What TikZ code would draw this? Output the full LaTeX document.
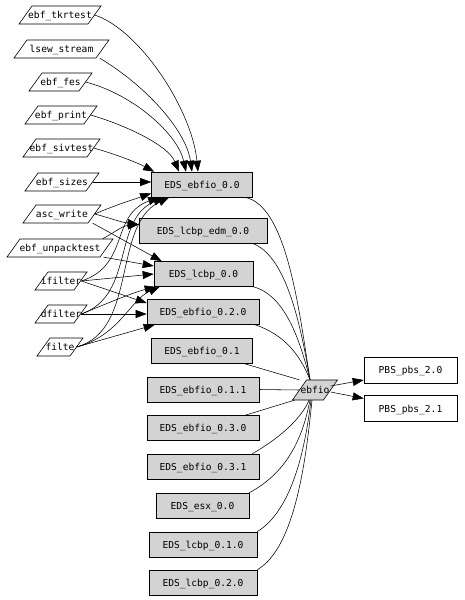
\documentclass[tikz,border=0pt]{standalone}
\usepackage{fontspec}
\setmonofont{DejaVu Sans Mono}
\usetikzlibrary{arrows.meta}
\definecolor{gvgray}{HTML}{D3D3D3}
\tikzset{
 lbl/.style={font=\ttfamily\fontsize{9.6}{11}\selectfont, inner sep=0pt, text depth=0pt, text height=7pt},
 eds/.style={lbl, draw, fill=gvgray, minimum height=25, line width=0.6pt},
 pbs/.style={lbl, draw, fill=white, minimum height=26, line width=0.6pt},
 ptext/.style={lbl},
 conn/.style={line width=0.55pt, -{Triangle[length=11pt,width=8pt]}},
 plainconn/.style={line width=0.55pt},
}
% fill, name, x, y, midwidth, halfheight, skew, text
\newcommand\pgram[8]{%
  \path[draw, line width=0.6pt, fill=#1] ({#3-#5/2-#7},{#4+#6}) -- ({#3-#5/2+#7},{#4-#6}) -- ({#3+#5/2+#7},{#4-#6}) -- ({#3+#5/2-#7},{#4+#6}) -- cycle;
  \node[ptext, minimum width=#5, minimum height=2*#6] (#2) at (#3,#4) {#8};
}
\begin{document}
\begin{tikzpicture}[x=1pt,y=-1pt]
\fill[white] (0,0) rectangle (464,600);
\useasboundingbox (0,0) rectangle (464,600);

% left parallelograms
\pgram{white}{tkr}{60}{15}{69}{9}{6.5}{ebf\_tkrtest}
\pgram{white}{lsew}{61.5}{49}{82}{9}{6.5}{lsew\_stream}
\pgram{white}{fes}{60.5}{82}{50}{9}{6.5}{ebf\_fes}
\pgram{white}{prt}{61}{115}{59}{9}{6.5}{ebf\_print}
\pgram{white}{siv}{61.5}{148}{64}{9}{6.5}{ebf\_sivtest}
\pgram{white}{siz}{62}{182}{61}{9}{6.5}{ebf\_sizes}
\pgram{white}{asc}{62}{214}{65}{9}{6.5}{asc\_write}
\pgram{white}{unp}{60}{248}{93}{9}{6.5}{ebf\_unpacktest}
\pgram{white}{ifl}{61}{281}{39}{9}{6.5}{ifilter}
\pgram{white}{dfl}{61}{314}{39}{9}{6.5}{dfilter}
\pgram{white}{fil}{60}{347}{33}{9}{6.5}{filte}

% EDS boxes
\node[eds, minimum width=101] (e00) at (202,184.5) {EDS\_ebfio\_0.0};
\node[eds, minimum width=128] (edm) at (203,230.5) {EDS\_lcbp\_edm\_0.0};
\node[eds, minimum width=99] (l00) at (203.5,274) {EDS\_lcbp\_0.0};
\node[eds, minimum width=112] (e020) at (203,312) {EDS\_ebfio\_0.2.0};
\node[eds, minimum width=101] (e01) at (202,351) {EDS\_ebfio\_0.1};
\node[eds, minimum width=112] (e011) at (203,389.5) {EDS\_ebfio\_0.1.1};
\node[eds, minimum width=112] (e030) at (203,428) {EDS\_ebfio\_0.3.0};
\node[eds, minimum width=112] (e031) at (203,466.5) {EDS\_ebfio\_0.3.1};
\node[eds, minimum width=93] (esx) at (202.5,505.5) {EDS\_esx\_0.0};
\node[eds, minimum width=108] (l010) at (203,544.5) {EDS\_lcbp\_0.1.0};
\node[eds, minimum width=108] (l020) at (203,582.5) {EDS\_lcbp\_0.2.0};

% ebfio
\pgram{gvgray}{ebf}{315}{390}{31}{10}{7}{ebfio}

% PBS
\node[pbs, minimum width=93] (p20) at (410.5,370) {PBS\_pbs\_2.0};
\node[pbs, minimum width=93] (p21) at (410.5,408.5) {PBS\_pbs\_2.1};

% edges into EDS_ebfio_0.0
\draw[conn] (tkr.east) .. controls (140,30) and (192,110) .. ([xshift=-4pt]e00.north);
\draw[conn] ([xshift=-3pt]lsew.south east) .. controls (145,85) and (186,130) .. ([xshift=-10pt]e00.north);
\draw[conn] (fes.east) .. controls (135,95) and (178,135) .. ([xshift=-16pt]e00.north);
\draw[conn] (prt.east) .. controls (125,125) and (168,145) .. ([xshift=-23pt]e00.north);
\draw[conn] (siv.east) .. controls (118,155) and (138,163) .. ([xshift=3pt]e00.north west);
\draw[conn] (siz.east) -- (siz.east -| e00.west);
\draw[conn] (asc.east) .. controls (118,204) and (135,199) .. ([yshift=4pt]e00.south west);
\draw[conn] (ifl.east) .. controls (130,265) and (110,215) .. ([xshift=8pt]e00.south west);
\draw[conn] (dfl.east) .. controls (135,295) and (112,220) .. ([xshift=13pt]e00.south west);
\draw[conn] (fil.east) .. controls (138,330) and (112,225) .. ([xshift=18pt]e00.south west);

% edges into EDS_lcbp_edm_0.0
\draw[conn] (asc.east) .. controls (110,218) and (120,222) .. ([yshift=6pt]edm.west);
\draw[conn] ([xshift=-4pt]unp.north east) .. controls (115,232) and (122,226) .. ([yshift=6pt]edm.west);

% edges into EDS_lcbp_0.0
\draw[conn] ([xshift=-2pt]asc.south east) -- ([xshift=8pt]l00.north west);
\draw[conn] ([xshift=-3pt]unp.south east) -- ([yshift=8pt]l00.west);
\draw[conn] (ifl.east) -- (l00.west);
\draw[conn] (dfl.east) .. controls (115,300) and (135,292) .. ([xshift=2pt]l00.south west);
\draw[conn] (fil.east) .. controls (120,335) and (130,300) .. ([xshift=6pt]l00.south west);

% edges into EDS_ebfio_0.2.0
\draw[conn] (ifl.east) -- ([yshift=9pt]e020.west);
\draw[conn] (dfl.east) -- (dfl.east -| e020.west);
\draw[conn] (fil.east) -- ([xshift=8pt]e020.south west);

% EDS -> ebfio
\draw[plainconn] ([xshift=-8pt]e00.south east) .. controls (285,205) and (298,300) .. ([xshift=-5pt]ebf.north);
\draw[plainconn] ([xshift=-15pt]edm.south east) .. controls (285,255) and (300,320) .. ([xshift=-5pt]ebf.north);
\draw[plainconn] (l00.south east) .. controls (285,295) and (300,340) .. ([xshift=-5pt]ebf.north);
\draw[plainconn] ([xshift=-4pt]e020.south east) .. controls (285,335) and (300,355) .. ([xshift=-5pt]ebf.north);
\draw[plainconn] ([xshift=-8pt]e01.south east) -- (ebf.north west);
\draw[plainconn] (e011.east) -- (ebf.west);
\draw[plainconn] ([xshift=-14pt]e030.north east) -- ([xshift=-5pt]ebf.south west);
\draw[plainconn] ([xshift=-7pt]e031.north east) .. controls (285,435) and (303,415) .. ([xshift=-6pt]ebf.south);
\draw[plainconn] (esx.north east) .. controls (292,470) and (304,430) .. ([xshift=-5pt]ebf.south);
\draw[plainconn] (l010.north east) .. controls (292,510) and (305,450) .. ([xshift=-4pt]ebf.south);
\draw[plainconn] (l020.north east) .. controls (295,548) and (306,460) .. ([xshift=-3pt]ebf.south);

% ebfio -> PBS
\draw[conn] ([yshift=4pt]ebf.east) -- ([yshift=-10pt]p20.west);
\draw[conn] ([yshift=-2pt]ebf.east) -- ([yshift=10pt]p21.west);
\end{tikzpicture}
\end{document}
